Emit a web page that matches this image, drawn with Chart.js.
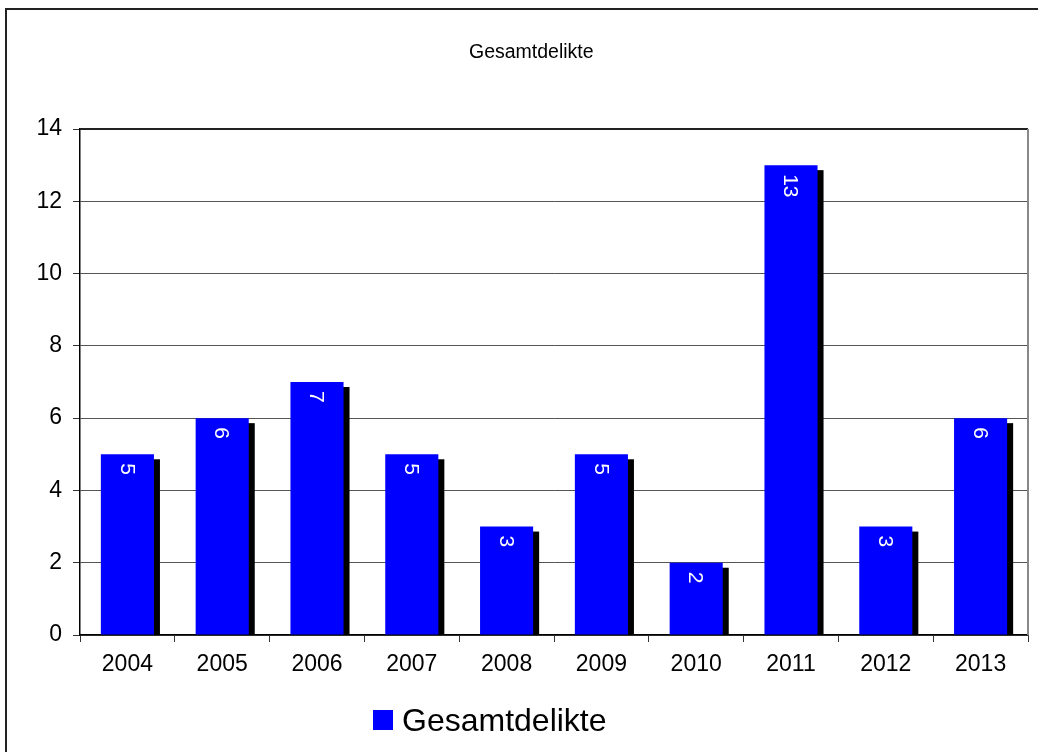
<!DOCTYPE html>
<html lang="de">
<head>
  <meta charset="UTF-8">
  <title>Gesamtdelikte</title>
  <script src="https://cdn.jsdelivr.net/npm/chart.js"></script>
  <style>
    body { margin: 0; background: #fff; font-family: "Liberation Sans", Arial, sans-serif; }
    #wrap { position: relative; width: 1038px; height: 752px; overflow: hidden; }
    #frame { position: absolute; left: 5px; top: 8px; width: 1050px; height: 760px; border: 2px solid #222; box-sizing: border-box; }
    #chart { position: absolute; left: 0; top: 0; }
    #title { position: absolute; left: 469px; top: 40px; font-size: 19.5px; color: #000; }
    #legend { position: absolute; left: 373px; top: 700px; height: 40px; display: flex; align-items: center; font-size: 32px; color: #000; }
    #legend span.box { display: inline-block; width: 20px; height: 20px; background: #0000ff; margin-right: 9px; }
  </style>
</head>
<body>
  <div id="wrap">
    <div id="frame"></div>
    <canvas id="chart" width="1038" height="752"></canvas>
    <div id="title">Gesamtdelikte</div>
    <div id="legend"><span class="box"></span>Gesamtdelikte</div>
  </div>

  <script>
    // Daten
    var years = ['2004', '2005', '2006', '2007', '2008', '2009', '2010', '2011', '2012', '2013'];
    var delikte = [5, 6, 7, 5, 3, 5, 2, 13, 3, 6];
    var yTicks = [0, 2, 4, 6, 8, 10, 12, 14];

    // Schatten rechts unten hinter den Balken
    var shadowPlugin = {
      id: 'shadow',
      beforeDatasetsDraw: function(chart) {
        var ctx = chart.ctx;
        var meta = chart.getDatasetMeta(0);
        ctx.save();
        ctx.fillStyle = '#000';
        meta.data.forEach(function(bar) {
          var h = bar.base - bar.y - 5;
          if (h > 0) ctx.fillRect(bar.x - bar.width / 2 + 6, bar.y + 5, bar.width, h);
        });
        ctx.restore();
      }
    };

    // Werte gedreht in den Balken
    var valuePlugin = {
      id: 'values',
      afterDatasetsDraw: function(chart) {
        var ctx = chart.ctx;
        var meta = chart.getDatasetMeta(0);
        ctx.save();
        ctx.fillStyle = '#fff';
        ctx.font = '21px "Liberation Sans", Arial, sans-serif';
        ctx.textAlign = 'left';
        ctx.textBaseline = 'middle';
        meta.data.forEach(function(bar, i) {
          ctx.save();
          ctx.translate(bar.x - 1, bar.y + 9);
          ctx.rotate(Math.PI / 2);
          ctx.fillText(String(delikte[i]), 0, 0);
          ctx.restore();
        });
        ctx.restore();
      }
    };

    // Rahmen der Zeichenfläche oben und rechts
    var borderPlugin = {
      id: 'plotBorder',
      afterDraw: function(chart) {
        var a = chart.chartArea;
        var ctx = chart.ctx;
        ctx.save();
        ctx.lineWidth = 2;
        ctx.strokeStyle = '#222';
        ctx.beginPath();
        ctx.moveTo(a.left, a.top);
        ctx.lineTo(a.right, a.top);
        ctx.stroke();
        ctx.strokeStyle = '#888';
        ctx.beginPath();
        ctx.moveTo(a.right, a.top);
        ctx.lineTo(a.right, a.bottom);
        ctx.stroke();
        ctx.restore();
      }
    };

    var font = { family: '"Liberation Sans", Arial, sans-serif', size: 23 };

    new Chart(document.getElementById('chart'), {
      type: 'bar',
      data: {
        labels: years,
        datasets: [{
          label: 'Gesamtdelikte',
          data: delikte,
          backgroundColor: '#0000ff',
          borderWidth: 0,
          barPercentage: 0.56,
          categoryPercentage: 1.0
        }]
      },
      options: {
        responsive: false,
        animation: false,
        layout: { padding: { left: 0, top: 129, right: 10, bottom: 77 } },
        plugins: {
          legend: { display: false },
          title: { display: false },
          tooltip: { enabled: false }
        },
        scales: {
          x: {
            offset: true,
            grid: { offset: true, drawOnChartArea: false, tickLength: 7, tickColor: '#333', lineWidth: 1 },
            border: { color: '#000', width: 1.5 },
            ticks: { color: '#000', font: font, padding: 9, maxRotation: 0 },
            afterFit: function(axis) { axis.height = 40; }
          },
          y: {
            min: 0,
            max: 14,
            afterBuildTicks: function(axis) {
              axis.ticks = yTicks.map(function(v) { return { value: v }; });
            },
            grid: { color: '#555', lineWidth: 1, tickLength: 7, tickColor: '#333' },
            border: { color: '#000', width: 1.5 },
            ticks: { color: '#000', font: font, padding: 11 },
            afterFit: function(axis) { axis.width = 80; }
          }
        }
      },
      plugins: [shadowPlugin, valuePlugin, borderPlugin]
    });
  </script>
</body>
</html>
